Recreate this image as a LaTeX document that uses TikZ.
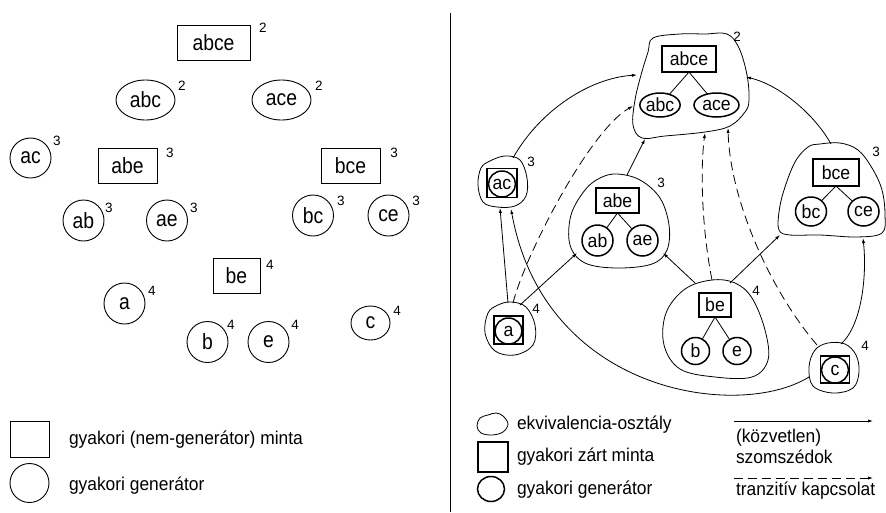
\documentclass[tikz,border=0pt]{standalone}
\usepackage{fontspec}
\setmainfont{Liberation Sans}
\newfontfamily\condfont{Liberation Sans}[FakeStretch=0.88]
\newfontfamily\legfont{Liberation Sans}[FakeStretch=0.94]
\newfontfamily\rcondfont{Liberation Sans}[FakeStretch=0.93]
\usetikzlibrary{arrows.meta,shapes.geometric}
\tikzset{
  every node/.style={inner sep=0pt, outer sep=0pt},
  lfont/.style={font=\condfont\fontsize{22}{22}\selectfont},
  rfont/.style={font=\rcondfont\fontsize{19}{19}\selectfont},
  gfont/.style={font=\legfont\fontsize{18.5}{18.5}\selectfont},
  supfont/.style={font=\fontsize{13.5}{13.5}\selectfont},
  lbox/.style={draw, line width=0.9pt, rectangle, lfont},
  lcirc/.style={draw, line width=0.9pt, ellipse, lfont},
  rbox/.style={draw, line width=1.7pt, rectangle, rfont},
  rcirc/.style={draw, line width=1.5pt, ellipse, rfont},
  blob/.style={draw, line width=0.8pt},
  edge/.style={line width=0.8pt},
  conn/.style={line width=0.8pt, -{Latex[length=5pt,width=3.2pt]}},
  tconn/.style={conn, dash pattern=on 9pt off 5pt},
  legtext/.style={gfont, anchor=west},
}
\begin{document}
\begin{tikzpicture}[x=1pt,y=-1pt]
\useasboundingbox (0,0) rectangle (886,512);
\fill[white] (0,0) rectangle (886,512);

% ---------------- left panel ----------------
\node[lbox, minimum width=73pt, minimum height=35pt] (Labce) at (213.5,42.5) {abce};
\node[supfont] (sLabce) at (263,28) {2};
\node[lcirc, minimum width=59pt, minimum height=40pt] (Labc) at (145.5,100) {abc};
\node[supfont] (sLabc) at (182,86) {2};
\node[lcirc, minimum width=59pt, minimum height=40pt] (Lace) at (281.5,100) {ace};
\node[supfont] (sLace) at (319,86) {2};
\node[lcirc, minimum width=41pt, minimum height=40pt] (Lac) at (30.5,158) {ac};
\node[supfont] (sLac) at (57,141) {3};
\node[lbox, minimum width=59pt, minimum height=35pt] (Labe) at (127.5,165.5) {abe};
\node[supfont] (sLabe) at (170,153) {3};
\node[lbox, minimum width=59pt, minimum height=35pt] (Lbce) at (350.5,165.5) {bce};
\node[supfont] (sLbce) at (394,153) {3};
\node[lcirc, minimum width=41pt, minimum height=41pt] (Lab) at (83.5,220.5) {ab};
\node[supfont] (sLab) at (109,208) {3};
\node[lcirc, minimum width=41pt, minimum height=41pt] (Lae) at (167,220.5) {ae};
\node[supfont] (sLae) at (194,208) {3};
\node[lcirc, minimum width=41pt, minimum height=41pt] (Lbc) at (313,215.5) {bc};
\node[supfont] (sLbc) at (341,201) {3};
\node[lcirc, minimum width=41pt, minimum height=41pt] (Lce) at (388.5,215.5) {ce};
\node[supfont] (sLce) at (416,201) {3};
\node[lbox, minimum width=47pt, minimum height=35pt] (Lbe) at (236.5,275.5) {be};
\node[supfont] (sLbe) at (270,265) {4};
\node[lcirc, minimum width=41pt, minimum height=41pt] (La) at (124.5,303.5) {a};
\node[supfont] (sLa) at (152,291) {4};
\node[lcirc, minimum width=41pt, minimum height=41pt] (Lb) at (207.5,342) {b};
\node[supfont] (sLb) at (231,325) {4};
\node[lcirc, minimum width=41pt, minimum height=41pt] (Le) at (268.5,342) {e};
\node[supfont] (sLe) at (295,325) {4};
\node[lcirc, minimum width=39pt, minimum height=34pt] (Lc) at (370.5,323) {c};
\node[supfont] (sLc) at (397,311) {4};

% left legend
\node[draw, line width=0.9pt, minimum width=39pt, minimum height=36pt] (LlegBox) at (29.5,439.5) {};
\node[draw, line width=0.9pt, ellipse, minimum width=39pt, minimum height=39pt] (LlegCirc) at (29.5,483) {};
\node[legtext] (LlegT1) at (69,440) {gyakori (nem-generátor) minta};
\node[legtext] (LlegT2) at (69,486) {gyakori generátor};

% divider
\coordinate (divT) at (450,13);
\coordinate (divB) at (450,512);
\draw[line width=1pt] (divT) -- (divB);

% ---------------- right panel: blobs ----------------
\draw[blob] plot[smooth cycle, tension=0.6] coordinates {(653,38) (680,34) (705,34) (727,34) (739,48) (747,75) (749,100) (745,112) (730,126) (705,132) (665,136) (642,138) (633,125) (635,100) (641,75) (648,52)};
\draw[blob] plot[smooth cycle, tension=0.6] coordinates {(490,161) (505,156) (520,160) (527,178) (526,196) (515,206) (497,207) (483,202) (478,185) (481,168)};
\draw[blob] plot[smooth cycle, tension=0.6] coordinates {(617,174) (640,180) (660,198) (669,225) (667,250) (652,264) (617,268) (585,263) (570,245) (571,215) (585,190) (600,178)};
\draw[blob] plot[smooth cycle, tension=0.6] coordinates {(820,144) (840,143) (858,150) (872,168) (882,190) (885,215) (882,233) (857,237) (820,235) (790,235) (779,230) (779,212) (784,190) (795,162) (808,147)};
\draw[blob] plot[smooth cycle, tension=0.6] coordinates {(511,302) (526,307) (535,325) (533,345) (515,355) (495,351) (485,333) (488,313) (498,305)};
\draw[blob] plot[smooth cycle, tension=0.6] coordinates {(712,280) (735,283) (752,298) (765,330) (768,360) (752,377) (715,377) (680,369) (664,345) (666,313) (685,289)};
\draw[blob] plot[smooth cycle, tension=0.6] coordinates {(828,343) (845,344) (856,355) (859,372) (853,388) (833,393) (813,386) (809,367) (815,350)};

% ---------------- right panel: nodes ----------------
\node[rbox, minimum width=54pt, minimum height=26pt] (Rabce) at (689,59) {abce};
\node[rcirc, minimum width=36pt, minimum height=24pt] (Rabc) at (660,105) {abc};
\node[rcirc, minimum width=45pt, minimum height=24pt] (Race) at (716.5,105) {ace};
\node[supfont] (sRabce) at (737,37) {2};

\node[rbox, minimum width=30pt, minimum height=29pt] (Racbox) at (502,183) {};
\node[rcirc, minimum width=27pt, minimum height=26pt] (Rac) at (502,184) {ac};
\node[supfont] (sRac) at (531,162) {3};

\node[rbox, minimum width=43pt, minimum height=25pt] (Rabe) at (617.5,200.5) {abe};
\node[rcirc, minimum width=31pt, minimum height=31pt] (Rab) at (597.5,240.5) {ab};
\node[rcirc, minimum width=31pt, minimum height=31pt] (Rae) at (642.5,240.5) {ae};
\node[supfont] (sRabe) at (661,183) {3};

\node[rbox, minimum width=46pt, minimum height=27pt] (Rbce) at (836,172.5) {bce};
\node[rcirc, minimum width=31pt, minimum height=29pt] (Rbc) at (811,211.5) {bc};
\node[rcirc, minimum width=31pt, minimum height=29pt] (Rce) at (863.5,211.5) {ce};
\node[supfont] (sRbce) at (876,152) {3};

\node[rbox, minimum width=29pt, minimum height=28pt] (Rabox) at (508.5,330) {};
\node[rcirc, minimum width=27pt, minimum height=26pt] (Ra) at (508.5,331) {a};
\node[supfont] (sRa) at (536,309) {4};

\node[rbox, minimum width=32pt, minimum height=24pt] (Rbe) at (715,305) {be};
\node[rcirc, minimum width=28pt, minimum height=27pt] (Rb) at (695.5,351) {b};
\node[rcirc, minimum width=28pt, minimum height=27pt] (Re) at (737,351) {e};
\node[supfont] (sRbe) at (756,291) {4};

\node[rbox, minimum width=29pt, minimum height=27pt] (Rcbox) at (835,369.5) {};
\node[rcirc, minimum width=27pt, minimum height=26pt] (Rc) at (835,370) {c};
\node[supfont] (sRc) at (865,346) {4};

% tree edges inside classes
\draw[edge] (Rabce.south) -- (Rabc);
\draw[edge] (Rabce.south) -- (Race);
\draw[edge] (Rabe.south) -- (Rab);
\draw[edge] (Rabe.south) -- (Rae);
\draw[edge] (Rbce.south) -- (Rbc);
\draw[edge] (Rbce.south) -- (Rce);
\draw[edge] (Rbe.south) -- (Rb);
\draw[edge] (Rbe.south) -- (Re);

% connection points on class outlines
\coordinate (acT) at (513,158);
\coordinate (acB1) at (500,208);
\coordinate (acB2) at (511,209);
\coordinate (abceL) at (637,75);
\coordinate (abceL2) at (633,106);
\coordinate (abceR) at (746,77);
\coordinate (abceB1) at (645,139);
\coordinate (abceB2) at (705,133);
\coordinate (abceB3) at (728,128);
\coordinate (bceT) at (831,144);
\coordinate (bceB) at (863,238);
\coordinate (bceL) at (780,235);
\coordinate (abeT) at (627,175);
\coordinate (abeL) at (577,253);
\coordinate (abeR) at (663,253);
\coordinate (aT1) at (508,303);
\coordinate (aT2) at (513,303);
\coordinate (aT3) at (520,305);
\coordinate (beT) at (712,280);
\coordinate (beTL) at (695,283);
\coordinate (beTR) at (730,283);
\coordinate (cT) at (817,345);
\coordinate (cTR) at (841,344);
\coordinate (cL) at (809,377);

% connectors
\draw[conn] (acT) .. controls (540,110) and (590,78) .. (abceL);
\draw[conn] (bceT) .. controls (815,115) and (780,85) .. (abceR);
\draw[conn] (cTR) .. controls (862,325) and (867,275) .. (bceB);
\draw[conn] (cL) .. controls (740,420) and (545,395) .. (acB2);
\draw[conn] (aT1) -- (acB1);
\draw[tconn] (aT2) .. controls (525,255) and (590,130) .. (abceL2);
\draw[conn] (aT3) -- (abeL);
\draw[conn] (abeT) -- (abceB1);
\draw[conn] (beTL) -- (abeR);
\draw[conn] (beTR) -- (bceL);
\draw[tconn] (beT) .. controls (702,230) and (700,170) .. (abceB2);
\draw[tconn] (cT) .. controls (770,290) and (730,200) .. (abceB3);

% ---------------- right legend ----------------
\draw[blob] plot[smooth cycle, tension=0.6] coordinates {(488,415) (496,413) (503,416) (508,424) (503,432) (492,435) (481,433) (477,426) (480,418)};
\node[draw, line width=1.7pt, minimum width=30pt, minimum height=30pt] (RlegBox) at (493,457) {};
\node[draw, line width=1.5pt, ellipse, minimum width=27pt, minimum height=25pt] (RlegCirc) at (491,489) {};
\node[legtext] (RlegT1) at (517,425) {ekvivalencia-osztály};
\node[legtext] (RlegT2) at (517,457) {gyakori zárt minta};
\node[legtext] (RlegT3) at (517,490) {gyakori generátor};

\coordinate (arrS1) at (734,421);
\coordinate (arrE1) at (873,421);
\coordinate (arrS2) at (734,478);
\coordinate (arrE2) at (873,478);
\draw[conn] (arrS1) -- (arrE1);
\draw[tconn] (arrS2) -- (arrE2);
\node[legtext] (RlegT4) at (736,438) {(közvetlen)};
\node[legtext] (RlegT5) at (736,457) {szomszédok};
\node[legtext] (RlegT6) at (736,491) {tranzitív kapcsolat};
\end{tikzpicture}
\end{document}
